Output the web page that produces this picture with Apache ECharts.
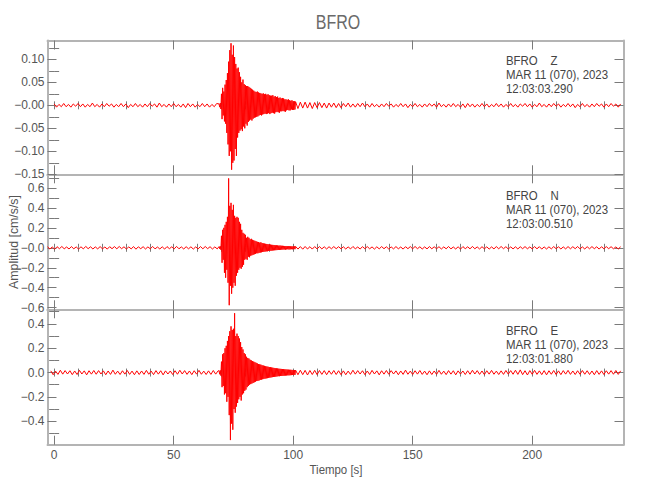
<!DOCTYPE html>
<html>
<head>
<meta charset="utf-8">
<script src="https://cdn.jsdelivr.net/npm/echarts@6/dist/echarts.min.js"></script>
<style>html,body{margin:0;padding:0;background:#fff}#chart{width:650px;height:500px}</style>
</head>
<body>
<div id="chart"></div>
<script>
// ---------- DATA (amplitudes in 0.001 cm/s/s) ----------
const xMajorTicks = [0, 50, 100, 150, 200];
const xMinorTicks = [0,10,20,30,40,50,60,70,80,90,100,110,120,130,140,150,160,170,180,190,200,210,220,230];
const xTickLabels = ['0', '50', '100', '150', '200'];

const zYTicks = [-0.15, -0.10, -0.05, 0, 0.05, 0.10];
const zYLabels = ['\u22120.15', '\u22120.10', '\u22120.05', '\u22120.00', '0.05', '0.10'];
const zYMinor = [-0.125, -0.075, -0.025, 0.025, 0.075, 0.125];
const nYTicks = [-0.6, -0.4, -0.2, 0, 0.2, 0.4, 0.6];
const nYLabels = ['\u22120.6', '\u22120.4', '\u22120.2', '\u22120.0', '0.2', '0.4', '0.6'];
const nYMinor = [-0.5, -0.3, -0.1, 0.1, 0.3, 0.5, 0.7];
const eYTicks = [-0.4, -0.2, 0, 0.2, 0.4];
const eYLabels = ['\u22120.4', '\u22120.2', '0.0', '0.2', '0.4'];
const eYMinor = [-0.5, -0.3, -0.1, 0.1, 0.3, 0.5];

const stationLabels = ['BFRO\u00a0\u00a0\u00a0\u00a0Z', 'BFRO\u00a0\u00a0\u00a0\u00a0N', 'BFRO\u00a0\u00a0\u00a0\u00a0E'];
const dateLabels = ['MAR 11 (070), 2023', 'MAR 11 (070), 2023', 'MAR 11 (070), 2023'];
const startLabels = ['12:03:03.290', '12:03:00.510', '12:03:01.880'];

// segment start times (s) and sample spacing
const zPreStart = 0, nPreStart = -2.78, ePreStart = -1.41;
const noiseStep = 1;
const burstStart = 69, burstStep = 0.25;
const postStart = 101;

const zPre = [
 3,-4,2,-3,4,-3,2,-4,3,-2,
 4,-3,3,-4,2,-3,5,-3,2,-4,
 3,-3,4,-2,3,-4,2,-3,4,-3,
 3,-5,2,-3,4,-3,2,-4,3,-3,
 4,-2,3,-4,5,-3,2,-4,3,-3,
 4,-3,2,-4,3,-5,4,-3,3,-4,
 2,-3,4,-3,3,-4,2,-3,4];
const zBurst = [
 3,-4,5,-8,25,-30,38,-22,
 30,-35,45,-40,55,-60,70,-85,
 95,-110,120,-100,135,-140,110,-125,
 130,-120,105,-95,90,-110,80,-70,
 82,-60,72,-55,62,-52,50,-56,
 56,-46,46,-50,44,-40,42,-44,
 42,-36,40,-33,38,-31,36,-33,
 34,-29,32,-27,30,-26,29,-25,
 30,-24,28,-22,27,-21,26,-22,
 25,-20,26,-19,24,-18,25,-19,
 23,-18,24,-17,22,-19,21,-17,
 21,-16,22,-17,19,-18,20,-15,
 18,-14,19,-15,16,-16,17,-13,
 15,-13,16,-12,15,-13,13,-14,
 13,-11,12,-10,13,-11,11,-11,
 10,-9,11,-10,9,-10,9,-9];
const zPost = [
 8,-7,7,-6,7,-6,6,-7,6,-5,
 6,-5,5,-6,5,-4,5,-5,4,-5,
 4,-3,5,-4,3,-4,4,-3,5,-3,
 3,-4,4,-3,2,-4,3,-3,4,-2,
 3,-4,2,-3,4,-3,3,-5,2,-3,
 4,-3,2,-4,3,-3,4,-2,3,-4,
 5,-3,2,-4,3,-3,4,-3,2,-4,
 3,-5,4,-3,3,-4,2,-3,4,-3,
 3,-4,2,-3,4,-3,3,-4,2,-3,
 4,-3,2,-4,3,-2,4,-3,3,-4,
 2,-3,5,-3,2,-4,3,-3,4,-2,
 3,-4,2,-3,4,-3,3,-5,2,-3,
 4,-3,2,-4,3,-3,4,-2,3,-4,
 3,-3,4,-2,3,-4,3];

const nPre = [
 10,-12,8,-14,11,-9,13,-10,8,-12,
 12,-10,9,-13,10,-11,14,-9,10,-12,
 9,-11,12,-10,8,-13,11,-9,12,-10,
 13,-9,10,-12,9,-11,12,-14,10,-9,
 11,-12,9,-10,13,-11,8,-12,10,-13,
 12,-9,10,-11,14,-10,9,-12,11,-10,
 10,-13,9,-11,12,-10,13,-9,11,-12,
 9,-11];
const nBurst = [
 12,-10,15,-20,120,-150,180,-120,
 200,-250,230,-300,260,-220,310,-350,
 695,-575,420,-380,450,-460,380,-400,
 430,-350,320,-380,300,-280,310,-250,
 300,-220,260,-200,240,-210,180,-190,
 150,-170,140,-120,130,-110,100,-120,
 110,-90,100,-95,85,-80,90,-75,
 80,-70,75,-65,70,-60,65,-55,
 60,-55,58,-50,52,-48,55,-45,
 48,-42,45,-40,42,-38,40,-36,
 38,-35,36,-32,34,-30,32,-30,
 30,-28,29,-26,28,-25,26,-24,
 25,-23,24,-22,22,-21,23,-20,
 21,-19,20,-18,19,-17,18,-19,
 18,-16,17,-15,16,-17,15,-16,
 16,-14,15,-15,14,-13,15,-14];
const nPost = [
 14,-13,12,-14,13,-12,11,-13,12,-11,
 12,-11,10,-12,11,-10,12,-9,11,-10,
 10,-12,9,-11,13,-10,8,-12,11,-9,
 12,-10,9,-13,10,-11,12,-9,10,-12,
 9,-11,12,-10,8,-13,11,-9,12,-10,
 13,-9,10,-12,9,-11,12,-10,10,-9,
 11,-12,9,-10,13,-11,8,-12,10,-13,
 12,-9,10,-11,14,-10,9,-12,11,-10,
 10,-13,9,-11,12,-10,13,-9,11,-12,
 9,-11,10,-12,11,-9,12,-10,9,-11,
 12,-10,11,-13,9,-12,10,-11,12,-9,
 10,-12,9,-11,12,-10,11,-9,13,-11,
 9,-12,11,-10,12,-9,10,-13,11,-10,
 12,-9,11,-10,9,-12,10];

const ePre = [
 14,-18,12,-15,19,-13,16,-12,15,-17,
 13,-16,18,-12,14,-19,15,-13,17,-14,
 16,-12,14,-18,13,-15,20,-14,12,-16,
 15,-13,17,-15,12,-18,14,-16,13,-15,
 18,-14,12,-17,16,-13,15,-19,14,-12,
 13,-16,15,-14,19,-12,16,-15,13,-17,
 15,-13,18,-14,12,-16,14,-15,17,-13,
 14];
const eBurst = [
 15,-14,18,-25,90,-120,150,-110,
 160,-180,200,-170,220,-240,260,-200,
 300,-350,340,-555,380,-420,350,-470,
 360,-300,488,-330,300,-280,320,-250,
 300,-220,280,-200,250,-230,210,-180,
 190,-170,160,-150,150,-140,130,-120,
 120,-110,115,-100,105,-95,100,-90,
 95,-85,90,-80,85,-75,80,-70,
 75,-68,70,-65,68,-60,65,-58,
 60,-55,58,-52,55,-50,52,-48,
 50,-46,48,-44,45,-42,44,-40,
 42,-38,40,-36,38,-35,36,-34,
 35,-32,34,-30,32,-30,31,-28,
 30,-28,29,-27,28,-26,27,-25,
 26,-24,25,-23,24,-23,23,-22,
 23,-21,22,-20,21,-20,21,-19];
const ePost = [
 20,-18,19,-17,18,-20,17,-16,18,-17,
 17,-15,16,-18,15,-14,17,-16,15,-17,
 14,-18,12,-15,19,-13,16,-12,15,-17,
 13,-16,18,-12,14,-19,15,-13,17,-14,
 16,-12,14,-18,13,-15,20,-14,12,-16,
 15,-13,17,-15,12,-18,14,-16,13,-15,
 18,-14,12,-17,16,-13,15,-19,14,-12,
 13,-16,15,-14,19,-12,16,-15,13,-17,
 15,-13,18,-14,12,-16,14,-15,17,-13,
 16,-14,19,-15,22,-17,15,-20,16,-14,
 18,-15,14,-17,16,-19,15,-14,17,-16,
 14,-17,16,-13,18,-15,13,-16,15,-14,
 17,-14,15,-16,13,-18,16,-15,14,-16,
 15,-13,16,-14,17,-15,14];

// ---------- BUILD ----------
function segment(vals, t0, dt) {
  return vals.map((v, i) => [+(t0 + i * dt).toFixed(3), v / 1000]);
}
function trace(pre, preT0, burst, post) {
  return segment(pre, preT0, noiseStep)
    .concat(segment(burst, burstStart, burstStep))
    .concat(segment(post, postStart, noiseStep));
}
const traces = [
  trace(zPre, zPreStart, zBurst, zPost),
  trace(nPre, nPreStart, nBurst, nPost),
  trace(ePre, ePreStart, eBurst, ePost)
];

const panels = [
  { top: 40.5, height: 133.8, min: -0.15, max: 0.141, ticks: zYTicks, labels: zYLabels, minor: zYMinor },
  { top: 174.3, height: 135, min: -0.616, max: 0.736, ticks: nYTicks, labels: nYLabels, minor: nYMinor },
  { top: 309.3, height: 135.4, min: -0.593, max: 0.52, ticks: eYTicks, labels: eYLabels, minor: eYMinor }
];
const xMin = -2.78, xMax = 238.2;
const gLeft = 47.5, gWidth = 576;
const FONT = "'Liberation Sans', Arial, sans-serif";
const axisLineStyle = { color: '#b4b4b4', width: 2 };
const tickColor = '#7a7a7a';
const textColor = '#555';

const grid = [], xAxis = [], yAxis = [], series = [];
panels.forEach((p, i) => {
  grid[i] = { left: gLeft, top: p.top, width: gWidth, height: p.height, containLabel: false, outerBoundsMode: 'none' };
  grid[i + 3] = { left: gLeft, top: p.top, width: gWidth, height: p.height, containLabel: false, outerBoundsMode: 'none' };
});
panels.forEach((p, i) => {
  ['bottom', 'top'].forEach(pos => {
    xAxis.push({
      type: 'value', gridIndex: i, position: pos, min: xMin, max: xMax,
      axisLine: { show: true, onZero: false, lineStyle: axisLineStyle },
      axisTick: { show: true, inside: true, length: 9, customValues: xMajorTicks, lineStyle: { color: tickColor, width: 1 } },
      axisLabel: (i === 2 && pos === 'bottom') ? {
        show: true, customValues: xMajorTicks, margin: 4, color: textColor, fontSize: 12, fontFamily: FONT,
        formatter: v => { const k = xMajorTicks.findIndex(t => Math.abs(t - v) < 1e-6); return k >= 0 ? xTickLabels[k] : ''; }
      } : { show: false },
      splitLine: { show: false }
    });
  });
  ['left', 'right'].forEach(pos => {
    yAxis.push({
      type: 'value', gridIndex: i, position: pos, min: p.min, max: p.max,
      axisLine: { show: true, onZero: false, lineStyle: axisLineStyle },
      axisTick: { show: true, inside: true, length: 9, customValues: p.ticks, lineStyle: { color: tickColor, width: 1 } },
      axisLabel: pos === 'left' ? {
        show: true, customValues: p.ticks, margin: 3, color: textColor, fontSize: 12, fontFamily: FONT,
        formatter: v => { const k = p.ticks.findIndex(t => Math.abs(t - v) < 1e-9); return k >= 0 ? p.labels[k] : ''; }
      } : { show: false },
      splitLine: { show: false }
    });
  });
});
panels.forEach((p, i) => {
  ['bottom', 'top'].forEach(pos => {
    xAxis.push({
      type: 'value', gridIndex: i + 3, position: pos, min: xMin, max: xMax,
      axisLine: { show: false },
      axisTick: { show: true, inside: true, length: 4, customValues: xMinorTicks, lineStyle: { color: tickColor, width: 1 } },
      axisLabel: { show: false }, splitLine: { show: false }
    });
  });
  ['left', 'right'].forEach(pos => {
    yAxis.push({
      type: 'value', gridIndex: i + 3, position: pos, min: p.min, max: p.max,
      axisLine: { show: false },
      axisTick: { show: true, inside: true, length: 5, customValues: p.minor, lineStyle: { color: tickColor, width: 1 } },
      axisLabel: { show: false }, splitLine: { show: false }
    });
  });
});
traces.forEach((d, i) => {
  series.push({
    type: 'line', xAxisIndex: i * 2, yAxisIndex: i * 2, data: d,
    showSymbol: false, symbol: 'none', clip: true, silent: true,
    lineStyle: { color: '#ff0000', width: 1 }, z: 1
  });
});

const annTops = [61, 196, 331];
const graphic = [
  { type: 'text', x: 338, y: 22, scaleX: 0.8, style: { text: 'BFRO', fill: '#6a6a6a', font: '20px ' + FONT, align: 'center', verticalAlign: 'middle' } },
  { type: 'text', x: 336, y: 470, scaleX: 0.88, style: { text: 'Tiempo [s]', fill: textColor, font: '13px ' + FONT, align: 'center', verticalAlign: 'middle' } },
  { type: 'text', x: 14, y: 242, rotation: Math.PI / 2, scaleX: 0.95, style: { text: 'Amplitud [cm/s/s]', fill: textColor, font: '13px ' + FONT, align: 'center', verticalAlign: 'middle' } }
];
annTops.forEach((y, i) => {
  [stationLabels[i], dateLabels[i], startLabels[i]].forEach((s, j) => {
    graphic.push({ type: 'text', x: 506, y: y + j * 14, scaleX: 0.88, style: { text: s, fill: '#444', font: '13px ' + FONT, align: 'left', verticalAlign: 'middle' } });
  });
});

const chart = echarts.init(document.getElementById('chart'), null, { renderer: 'svg' });
chart.setOption({
  animation: false,
  backgroundColor: '#ffffff',
  grid, xAxis, yAxis, series, graphic
});
</script>
</body>
</html>
